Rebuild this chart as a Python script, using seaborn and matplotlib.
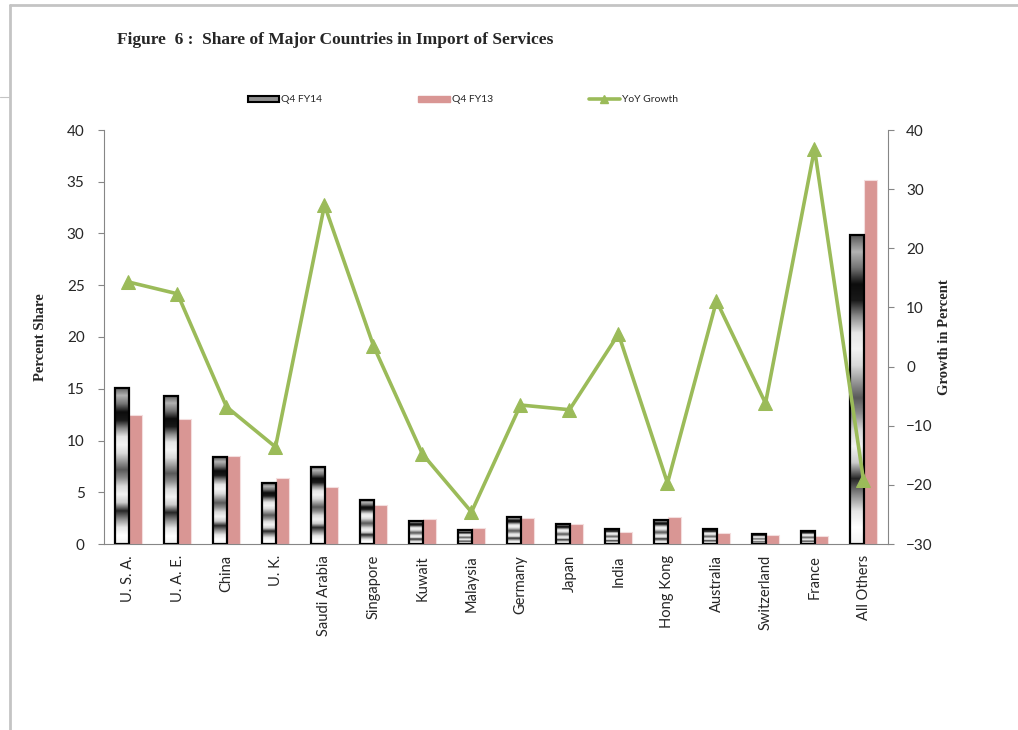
import matplotlib.pyplot as plt
import numpy as np
import pandas as pd
import seaborn as sb
from matplotlib.patches import Patch
from matplotlib.lines import Line2D

countries = ['U. S. A.', 'U. A. E.', 'China', 'U. K.', 'Saudi Arabia', 'Singapore', 'Kuwait',
             'Malaysia', 'Germany', 'Japan', 'India', 'Hong Kong', 'Australia', 'Switzerland',
             'France', 'All Others']
q4_fy14 = [15.1, 14.3, 8.4, 5.85, 7.45, 4.25, 2.25, 1.32, 2.62, 1.97, 1.45, 2.32, 1.45, 1.0, 1.3, 29.85]
q4_fy13 = [12.46, 12.05, 8.53, 6.35, 5.48, 3.8, 2.38, 1.55, 2.54, 1.93, 1.16, 2.61, 1.1, 0.87, 0.8, 35.2]
yoy_growth = [14.3, 12.3, -6.8, -13.6, 27.3, 3.5, -14.8, -24.6, -6.5, -7.3, 5.5, -19.7, 11.1, -6.2, 36.8, -19.2]

pink = '#D99694'
green = '#9BBB59'
axis_gray = '#868686'

sb.set_style('white')
plt.rcParams['font.family'] = ['Lato', 'DejaVu Sans']

df = pd.DataFrame({
    'country': countries * 2,
    'share': q4_fy14 + q4_fy13,
    'period': ['Q4 FY14'] * len(countries) + ['Q4 FY13'] * len(countries),
})

fig = plt.figure(figsize=(10.18, 7.30), dpi=100)
ax = fig.add_axes([104 / 1018, 1 - 544 / 730, (888 - 104) / 1018, (544 - 130) / 730])

sb.barplot(data=df, x='country', y='share', hue='period', palette=['#808080', pink],
           width=0.55, ax=ax, legend=False, saturation=1)

# metallic look for the FY14 bars
profile = [0.95, 1.0, 0.9, 0.55, 0.15, 0.8, 0.95, 0.85, 0.55, 0.35, 0.6, 0.85, 0.95, 0.9,
           0.55, 0.1, 0.05, 0.45, 0.7, 0.35]
grad = np.interp(np.linspace(0, len(profile) - 1, 300), np.arange(len(profile)), profile)
grad = grad.reshape(-1, 1)
for bar in ax.containers[0]:
    x0, y0 = bar.get_x(), bar.get_y()
    w, h = bar.get_width(), bar.get_height()
    bar.set_facecolor('none')
    bar.set_edgecolor('black')
    bar.set_linewidth(1.6)
    bar.set_zorder(3)
    im = ax.imshow(grad, cmap='gray', vmin=0, vmax=1, aspect='auto', origin='lower',
                   extent=(x0, x0 + w, y0, y0 + h), zorder=2)
    im.set_clip_path(bar)
for bar in ax.containers[1]:
    bar.set_edgecolor('#f4dede')
    bar.set_linewidth(0.8)

ax.set_xlim(-0.5, len(countries) - 0.5)
ax.set_ylim(0, 40)
ax.set_yticks(range(0, 41, 5))
ax.set_xlabel('')
ax.set_ylabel('Percent Share', family='Liberation Serif', fontweight='bold', fontsize=10.5, labelpad=14)
ax.tick_params(axis='x', length=0, labelsize=10.5, rotation=90, pad=8)
ax.tick_params(axis='y', length=4, color=axis_gray, labelsize=11, pad=10)
for s in ['top', 'right']:
    ax.spines[s].set_visible(False)
for s in ['left', 'bottom']:
    ax.spines[s].set_color(axis_gray)

ax2 = ax.twinx()
sb.lineplot(x=np.arange(len(countries)), y=yoy_growth, ax=ax2, color=green, linewidth=2.6,
            marker='^', markersize=10, markeredgecolor=green)
ax2.set_ylim(-30, 40)
ax2.set_yticks(range(-30, 41, 10))
ax2.set_ylabel('Growth in Percent', family='Liberation Serif', fontweight='bold', fontsize=10.5, labelpad=4)
ax2.tick_params(axis='y', length=4, color=axis_gray, labelsize=11, pad=9)
for s in ['top', 'left', 'bottom']:
    ax2.spines[s].set_visible(False)
ax2.spines['right'].set_color(axis_gray)

handles = [Patch(facecolor='#909090', edgecolor='black', linewidth=1.5),
           Patch(facecolor=pink, edgecolor=pink),
           Line2D([0], [0], color=green, linewidth=2.6, marker='^', markersize=6)]
fig.legend(handles, ['Q4 FY14', 'Q4 FY13', 'YoY Growth'], loc='center', ncol=3,
           bbox_to_anchor=(463 / 1018, 1 - 100 / 730), frameon=False, fontsize=7.5,
           handlelength=3.0, handleheight=0.5, handletextpad=0.2, columnspacing=9.2)

fig.text(117 / 1018, 1 - 40 / 730, 'Figure  6 :  Share of Major Countries in Import of Services',
         family='Liberation Serif', fontweight='bold', fontsize=12.5, va='center', ha='left')

# page border
fig.add_artist(Line2D([10 / 1018, 1], [1 - 5 / 730, 1 - 5 / 730], color='#c4c4c4', linewidth=2))
fig.add_artist(Line2D([10 / 1018, 10 / 1018], [0, 1 - 5 / 730], color='#c4c4c4', linewidth=2))
fig.add_artist(Line2D([0, 10 / 1018], [1 - 97 / 730, 1 - 97 / 730], color='#c4c4c4', linewidth=0.8))

fig.savefig('out.png', dpi=100)
